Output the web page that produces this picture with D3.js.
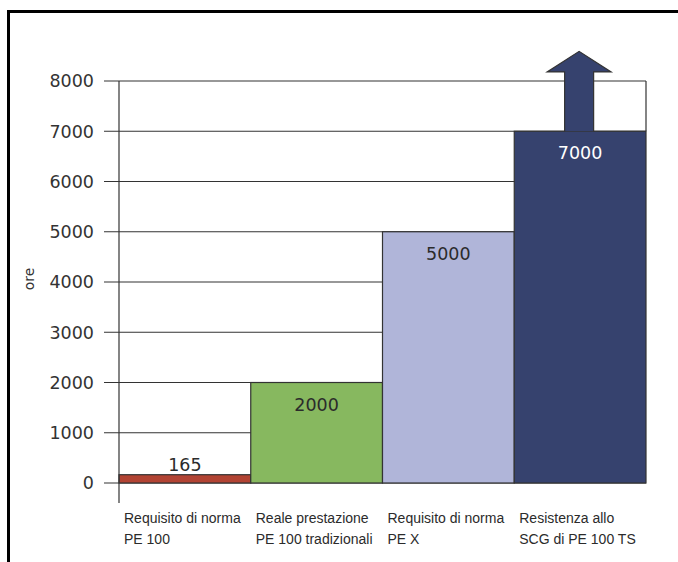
<!DOCTYPE html>
<html><head><meta charset="utf-8">
<script src="https://cdn.jsdelivr.net/npm/d3@7"></script>
<style>body{margin:0;background:#fff;} svg{display:block;}</style>
</head><body>
<script>
const categories = [["Requisito di norma","PE 100"],["Reale prestazione","PE 100 tradizionali"],["Requisito di norma","PE X"],["Resistenza allo","SCG di PE 100 TS"]];
const values = [165, 2000, 5000, 7000];
const valueLabels = ["165","2000","5000","7000"];
const colors = ["#b24333","#87b85f","#b0b5d9","#36426e"];
const labelColors = ["#2b2b2b","#2b2b2b","#2b2b2b","#ffffff"];
const yTicks = [0,1000,2000,3000,4000,5000,6000,7000,8000];
const yLabel = "ore";
const arrowShaftTop = 8180, arrowHeadTop = 8590;

const W = 678, H = 562;
const svg = d3.select("body").append("svg").attr("width", W).attr("height", H);
const font = "'Liberation Sans', Arial, sans-serif";
const numFont = "'DejaVu Sans', sans-serif";
const ink = "#333";

// frame
svg.append("path").attr("d", `M8.5,${H+5} L8.5,11.5 L${W+5},11.5`).attr("fill","none").attr("stroke","#000").attr("stroke-width",3);

const x = d3.scaleBand().domain(d3.range(values.length)).range([119, 646]).padding(0);
const y = d3.scaleLinear().domain([0, 8000]).range([483, 81]);

// grid lines with tick marks
svg.append("g").selectAll("line").data(yTicks).join("line")
  .attr("x1", 104).attr("x2", 646)
  .attr("y1", d => y(d)).attr("y2", d => y(d))
  .attr("stroke", ink).attr("stroke-width", 1.2);
// right edge of grid box
svg.append("line").attr("x1",646).attr("x2",646).attr("y1",y(8000)).attr("y2",y(7000)).attr("stroke",ink).attr("stroke-width",1.2);

// y tick labels
svg.append("g").selectAll("text").data(yTicks).join("text")
  .attr("x", 94).attr("y", d => y(d)).attr("dy","0.36em")
  .attr("text-anchor","end").attr("font-family",numFont).attr("font-size",17.5).attr("fill","#333")
  .text(d => d);

// y label
svg.append("text").attr("transform",`translate(34,279) rotate(-90)`)
  .attr("text-anchor","middle").attr("font-family",numFont).attr("font-size",14).attr("fill","#333").text(yLabel);

// bars
svg.append("g").selectAll("rect").data(values).join("rect")
  .attr("x",(d,i)=>x(i)).attr("width",x.bandwidth())
  .attr("y",d=>y(d)).attr("height",d=>y(0)-y(d))
  .attr("fill",(d,i)=>colors[i]).attr("stroke",ink).attr("stroke-width",1.2);

// arrow on last bar
const ci = x(3) + x.bandwidth()/2 - 1;
const arrow = [[ci-14.5,y(7000)],[ci-14.5,y(arrowShaftTop)],[ci-32,y(arrowShaftTop)],[ci,y(arrowHeadTop)],[ci+32,y(arrowShaftTop)],[ci+14.5,y(arrowShaftTop)],[ci+14.5,y(7000)]];
svg.append("path").attr("d", d3.line()(arrow)).attr("fill",colors[3]).attr("stroke",ink).attr("stroke-width",1.2);

// y axis line
svg.append("line").attr("x1",119).attr("x2",119).attr("y1",y(8000)).attr("y2",503).attr("stroke",ink).attr("stroke-width",1.2);

// value labels
svg.append("g").selectAll("text").data(values).join("text")
  .attr("x",(d,i)=>x(i)+x.bandwidth()/2)
  .attr("y",(d,i)=> i===0 ? y(d)-4 : y(d)+28)
  .attr("text-anchor","middle").attr("font-family",numFont).attr("font-size",17.5)
  .attr("fill",(d,i)=>labelColors[i]).text((d,i)=>valueLabels[i]);

// category labels
const cg = svg.append("g").selectAll("text").data(categories).join("text")
  .attr("x",(d,i)=>x(i)+5).attr("y",523)
  .attr("font-family",font).attr("font-size",14).attr("fill","#2b2b2b");
cg.selectAll("tspan").data(d=>d).join("tspan")
  .attr("x",function(){return this.parentNode.getAttribute("x");})
  .attr("dy",(d,j)=> j===0 ? 0 : 21).text(d=>d);
</script>
</body></html>
